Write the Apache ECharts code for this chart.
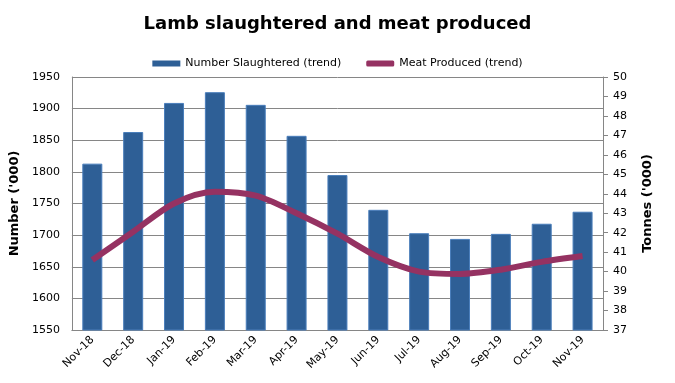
<!DOCTYPE html>
<html>
<head>
<meta charset="utf-8">
<script src="https://cdn.jsdelivr.net/npm/echarts@6/dist/echarts.min.js"></script>
<style>
html, body { margin: 0; padding: 0; background: #fff; }
#main { width: 675px; height: 383px; }
</style>
</head>
<body>
<div id="main"></div>
<script>
var months = ['Nov-18', 'Dec-18', 'Jan-19', 'Feb-19', 'Mar-19', 'Apr-19', 'May-19',
    'Jun-19', 'Jul-19', 'Aug-19', 'Sep-19', 'Oct-19', 'Nov-19'];
var slaughtered = [1813, 1863, 1909, 1926, 1906, 1857, 1795, 1740, 1703, 1694, 1702, 1718, 1737];
var meat = [40.6, 42.05, 43.5, 44.1, 43.9, 43.0, 41.95, 40.75, 40.0, 39.88, 40.1, 40.5, 40.8];

var myChart = echarts.init(document.getElementById('main'));
var font = 'DejaVu Sans';

option = {
    animation: false,
    backgroundColor: '#fff',
    textStyle: { fontFamily: font },
    title: {
        text: 'Lamb slaughtered and meat produced',
        left: 'center',
        top: 10,
        textStyle: { fontSize: 18, fontWeight: 'bold', color: '#000', fontFamily: font }
    },
    legend: {
        top: 53,
        left: 'center',
        itemGap: 25,
        textStyle: { fontSize: 11, color: '#000', fontFamily: font },
        data: [
            { name: 'Number Slaughtered (trend)', icon: 'rect', itemStyle: { color: '#2E5F96', borderWidth: 0 } },
            { name: 'Meat Produced (trend)', icon: 'roundRect' }
        ],
        itemWidth: 28,
        itemHeight: 6
    },
    grid: { left: 70, right: 72, top: 77, bottom: 53 },
    xAxis: {
        type: 'category',
        data: months,
        axisLine: { lineStyle: { color: '#868686' } },
        axisTick: { show: false },
        axisLabel: { rotate: 45, color: '#000', fontSize: 11, margin: 8, interval: 0 }
    },
    yAxis: [{
        type: 'value',
        min: 1550,
        max: 1950,
        interval: 50,
        name: "Number ('000)",
        nameLocation: 'middle',
        nameRotate: 90,
        nameGap: 50,
        nameTextStyle: { fontWeight: 'bold', fontSize: 13, color: '#000' },
        axisLine: { show: true, lineStyle: { color: '#868686' } },
        axisTick: { show: false },
        axisLabel: { color: '#000', fontSize: 11, margin: 12, formatter: function (v) { return String(v); } },
        splitLine: { lineStyle: { color: '#868686' } }
    }, {
        type: 'value',
        min: 37,
        max: 50,
        interval: 1,
        name: "Tonnes ('000)",
        nameLocation: 'middle',
        nameRotate: 90,
        nameGap: 38,
        nameTextStyle: { fontWeight: 'bold', fontSize: 13, color: '#000' },
        axisLine: { show: true, lineStyle: { color: '#868686' } },
        axisTick: { show: true, length: 5, lineStyle: { color: '#868686' } },
        axisLabel: { color: '#000', fontSize: 11, margin: 10 },
        splitLine: { show: false }
    }],
    series: [{
        name: 'Number Slaughtered (trend)',
        type: 'bar',
        barWidth: 20,
        itemStyle: { color: '#2E5F96', borderColor: '#4A7EBB', borderWidth: 1 },
        data: slaughtered
    }, {
        name: 'Meat Produced (trend)',
        type: 'line',
        yAxisIndex: 1,
        smooth: 0.3,
        showSymbol: false,
        symbol: 'none',
        lineStyle: { color: '#953262', width: 6 },
        itemStyle: { color: '#953262' },
        data: meat
    }]
};

myChart.setOption(option);
</script>
</body>
</html>
